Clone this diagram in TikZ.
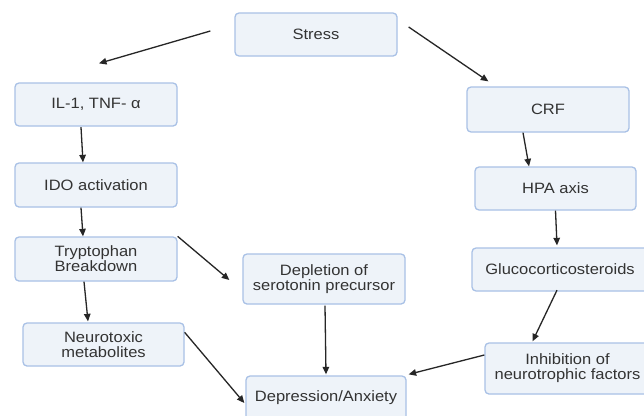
\documentclass[tikz,border=0pt]{standalone}
\usepackage{fontspec}
\setmainfont{Liberation Sans}[FakeStretch=1.1]
\usepackage{tikz}
\usetikzlibrary{arrows.meta,calc}
\definecolor{boxfill}{HTML}{EEF3F9}
\definecolor{boxline}{HTML}{A9C1E6}
\definecolor{inkgray}{HTML}{262626}
\definecolor{textgray}{HTML}{333333}

\begin{document}
\begin{tikzpicture}[x=1pt,y=-1pt,
  box/.style={draw=boxline,fill=boxfill,line width=1.3pt,rounded corners=4pt,
    minimum width=162pt,minimum height=44pt,inner sep=0pt,align=center,
    text=textgray,font=\fontsize{15}{15}\selectfont},
  arr/.style={-{Triangle[length=7.5pt,width=6.5pt]},line width=1.3pt,draw=inkgray}]
  \useasboundingbox (0,0) rectangle (644,415);
  \clip (0,0) rectangle (644,415);
  \fill[white] (0,0) rectangle (644,415);
  % left branch
  \node[box,minimum height=43pt] (stress) at (316,34.5) {Stress};
  \node[box,minimum height=43pt] (il) at (96,104.5) {IL-1, TNF- α};
  \node[box] (ido) at (96,185) {IDO activation};
  \node[box] (tryp) at (96,259) {Tryptophan\\Breakdown};
  \node[box,minimum width=161pt,minimum height=43pt] (neuro) at (103.5,344.5) {Neurotoxic\\metabolites};
  \node[box,minimum height=50pt] (depl) at (324,279) {Depletion of\\serotonin precursor};
  \node[box,minimum width=160pt] (depr) at (326,398) {Depression/Anxiety};
  % right branch
  \node[box,minimum height=45pt] (crf) at (548,109.5) {CRF};
  \node[box,minimum width=161pt,minimum height=43pt] (hpa) at (555.5,188.5) {HPA axis};
  \node[box,minimum width=176pt,minimum height=43pt] (gluco) at (560,269.5) {Glucocorticosteroids};
  \node[box,minimum width=165pt,minimum height=51pt] (inhib) at (567.5,368.5) {Inhibition of\\neurotrophic factors};

  \draw[arr] ($(stress.west)+(-24,-3.5)$) -- ($(il.north)+(3,-19)$);
  \draw[arr] ($(stress.east)+(11,-7.5)$) -- ($(crf.north west)+(22,-5)$);
  \draw[arr] ($(il.south)+(-15,0.5)$) -- ($(ido.north)+(-13,0)$);
  \draw[arr] ($(ido.south)+(-15,0)$) -- ($(tryp.north)+(-13,0)$);
  \draw[arr] ($(tryp.south)+(-12,0)$) -- ($(neuro.north)+(-15.5,-1)$);
  \draw[arr] (tryp.north east) -- ($(depl.west)+(-13,1)$);
  \draw[arr] ($(neuro.north east)+(0,10)$) -- ($(depr.west)+(-1,5)$);
  \draw[arr] ($(depl.south)+(1,1)$) -- ($(depr.north)+(0,-1)$);
  \draw[arr] ($(crf.south)+(-25,0)$) -- ($(hpa.north)+(-26.5,0)$);
  \draw[arr] (hpa.south) -- ($(gluco.north)+(-3,-2)$);
  \draw[arr] ($(gluco.south)+(-3,-1.5)$) -- ($(inhib.north)+(-35,-1)$);
  \draw[arr] ($(inhib.west)+(0,-13.5)$) -- ($(depr.north east)+(2,-1)$);
\end{tikzpicture}
\end{document}
